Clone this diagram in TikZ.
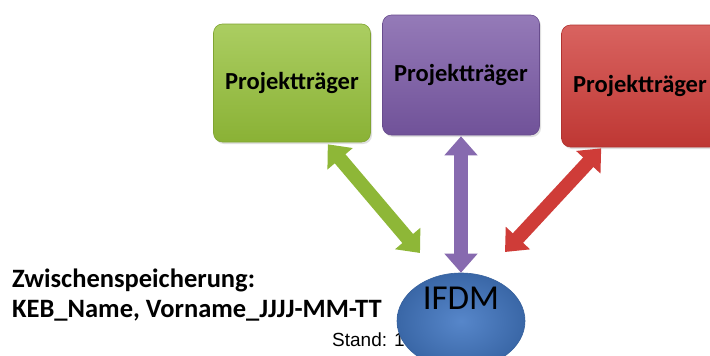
\documentclass[tikz,border=0pt]{standalone}
\usepackage{fontspec}
\setmainfont{Carlito}
\newfontfamily\arialfont{Liberation Sans}
\usetikzlibrary{arrows.meta,shapes.geometric,shadows}

\definecolor{ptgreen}{HTML}{96C13A}
\definecolor{ptpurple}{HTML}{7A59A6}
\definecolor{ptred}{HTML}{CF3C38}
\definecolor{ifdmblue}{HTML}{4479C4}

\tikzset{
	ptbox/.style={rounded corners=9pt, minimum width=157pt, draw=#1!85!black, line width=0.6pt,
		top color=#1!80!white, bottom color=#1!92!black, font=\bfseries\fontsize{24.5}{27}\selectfont,
		drop shadow={opacity=0.25, shadow xshift=1.5pt, shadow yshift=-2pt}},
	dblarrow/.style={line width=14pt, draw=#1,
		{Triangle[width=32pt,length=19pt]}-{Triangle[width=32pt,length=19pt]}},
	notetext/.style={anchor=base west, inner sep=0pt, font=\bfseries\fontsize{26.5}{29}\selectfont}
}

\begin{document}
\begin{tikzpicture}[x=1pt,y=-1pt]
		{
			\clip (0,0) rectangle (710,356);
			\fill[white] (0,0) rectangle (710,356);
				% drei Projekttraeger
				\foreach \x/\y/\h/\c/\n in {292/83/118/ptgreen/pt1, 461/75/120/ptpurple/pt2, 640/86/122/ptred/pt3}
				{
					\node[ptbox=\c, minimum height=\h pt] (\n) at (\x,\y) {Projektträger};
				}

				\node[notetext] (zw) at (12,287) {Zwischenspeicherung:};
				\node[notetext] (keb) at (12,317) {KEB\_Name, Vorname\_JJJJ-MM-TT};
				\node[anchor=base west, inner sep=0pt, font=\arialfont\fontsize{19}{21}\selectfont] (stand) at (332,346) {Stand: 13};

				% IFDM
				\node[ellipse, minimum width=128pt, minimum height=96pt, draw=ifdmblue!80!black, line width=0.6pt,
					inner color=ifdmblue!90!white, outer color=ifdmblue!85!black] (ifdm) at (461,321) {};
				\node[font=\fontsize{35}{38}\selectfont, inner sep=0pt] (ifdmtext) at ([yshift=23pt]ifdm.center) {IFDM};

				% Verbindungen
				\draw[dblarrow=ptgreen!95!black] ([xshift=-43pt,yshift=-2pt]pt1.south east) -- ([shift={(-41,-68)}]ifdm.center);
				\draw[dblarrow=ptpurple!90!white] ([yshift=-1pt]pt2.south) -- (ifdm.north);
				\draw[dblarrow=ptred] ([xshift=40pt,yshift=-1pt]pt3.south west) -- ([shift={(44,-69)}]ifdm.center);
			}
		\end{tikzpicture}
\end{document}
